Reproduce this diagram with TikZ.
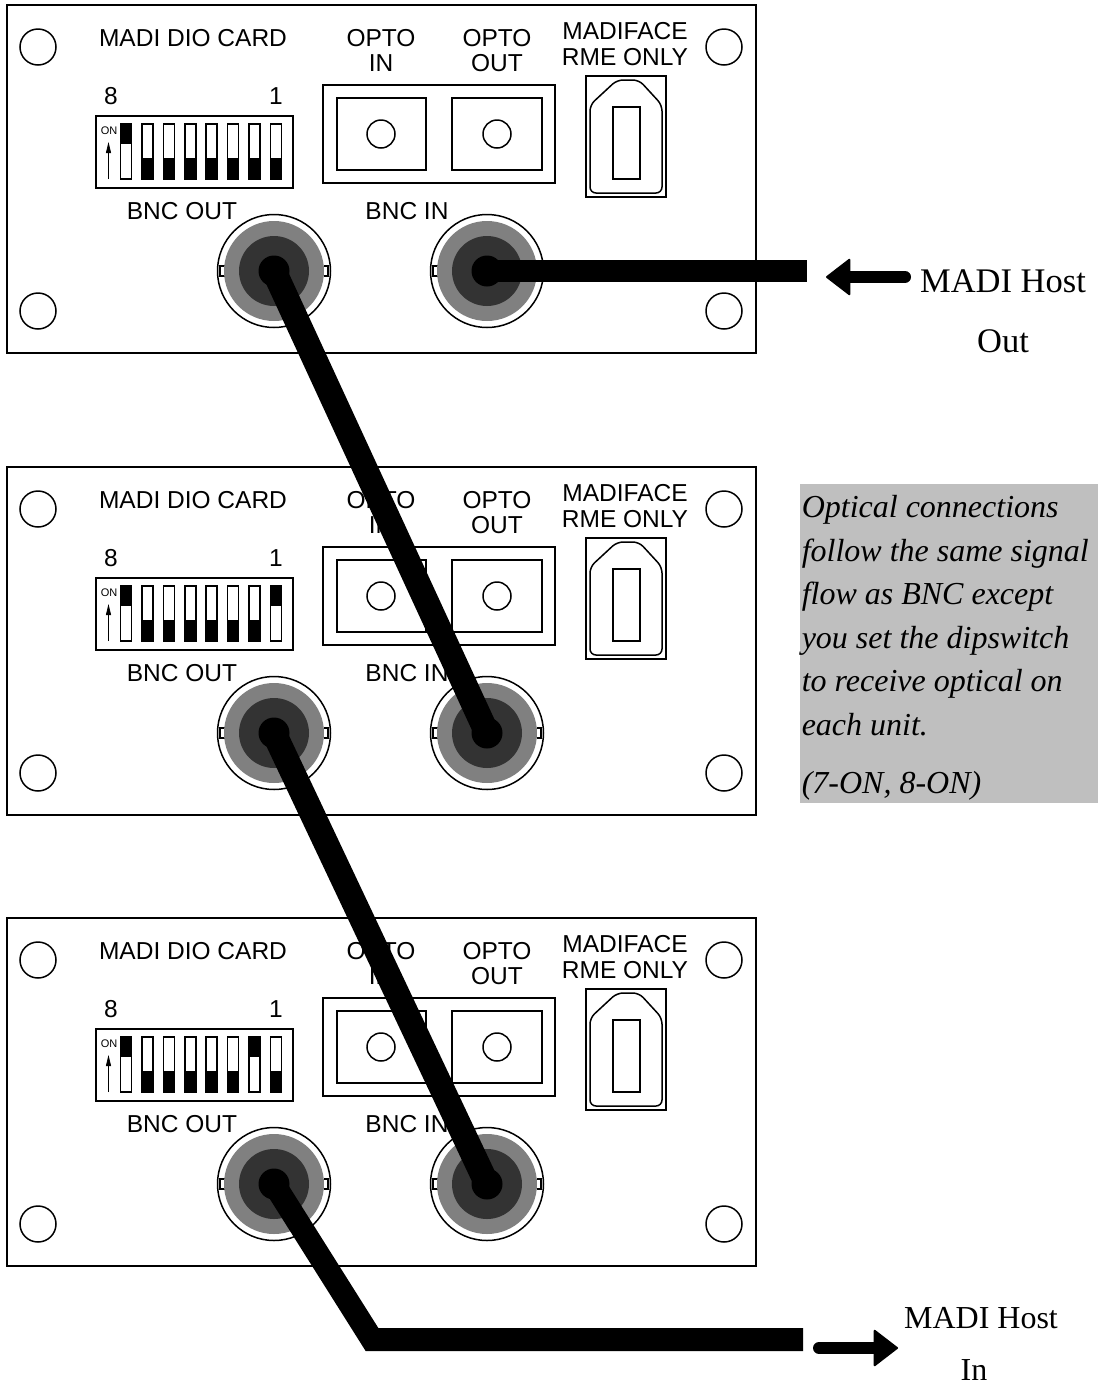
\documentclass[tikz,border=0pt]{standalone}
\usepackage{fontspec}
\setmainfont{Liberation Serif}
\setsansfont{Liberation Sans}
\usetikzlibrary{arrows.meta}

\begin{document}
\begin{tikzpicture}[x=1pt, y=-1pt, line width=1.5pt,
    cardlabel/.style={anchor=base, inner sep=0pt, font=\sffamily\fontsize{24.5}{24.5}\selectfont},
    hostlabel/.style={anchor=base, inner sep=0pt, font=\fontsize{34.5}{34.5}\selectfont},
    bncring/.style={circle, draw, fill=white, inner sep=0pt, minimum size=113pt},
    hub/.style={circle, fill=black, inner sep=0pt, minimum size=31pt},
    cable/.style={line width=25pt},
    hostarrow/.style={line width=12pt, line cap=round, -{Triangle[round, line width=2pt, length=25pt, width=38pt]}}]

    \useasboundingbox (0,0) rectangle (1103,1385);

    % three cards
    \foreach \card/\dy/\onb in {a/0/1, b/462/8, c/913/7} {
        \begin{scope}[shift={(0,\dy)}]
            \draw[line width=1.8pt] (7,5) rectangle (756,353);
            \foreach \hx/\hy in {38/47, 38/311, 724/47, 724/311}
                \draw (\hx,\hy) circle[radius=18];

            % labels
            \node[cardlabel] (title\card) at (193,46) {MADI DIO CARD};
            \node[cardlabel] (optoina\card) at (381,46) {OPTO};
            \node[cardlabel] (optoinb\card) at (381,71) {IN};
            \node[cardlabel] (optoouta\card) at (497,46) {OPTO};
            \node[cardlabel] (optooutb\card) at (497,71) {OUT};
            \node[cardlabel] (madiface\card) at (625,39) {MADIFACE};
            \node[cardlabel] (rmeonly\card) at (625,65) {RME ONLY};
            \node[cardlabel] (eight\card) at (111,104) {8};
            \node[cardlabel] (one\card) at (276,104) {1};
            \node[cardlabel] (bncoutlabel\card) at (182,219) {BNC OUT};
            \node[cardlabel] (bncinlabel\card) at (407,219) {BNC IN};

            % dipswitch
            \draw (96,116) rectangle (293,188);
            \node[inner sep=0pt, font=\sffamily\fontsize{11}{11}\selectfont] (on\card) at (109,131) {ON};
            \draw[line width=0.8pt, -{Triangle[length=11pt, width=5pt]}] (108.5,179) -- (108.5,142);
            \foreach \i in {1,...,8} {
                \pgfmathsetmacro{\swx}{126+(\i-1)*21.43}
                \draw (\swx-5.5,124) rectangle (\swx+5.5,179);
                \ifnum\i=1
                    \filldraw (\swx-5.5,124) rectangle (\swx+5.5,143);
                \else\ifnum\i=\onb
                    \filldraw (\swx-5.5,124) rectangle (\swx+5.5,143);
                \else
                    \filldraw (\swx-5.5,159) rectangle (\swx+5.5,179);
                \fi\fi
            }

            % optical ports
            \draw (323,85) rectangle (555,183);
            \draw (337,98) rectangle (426,170);
            \draw (452,98) rectangle (542,170);
            \draw (381,134) circle[radius=14];
            \draw (497,134) circle[radius=14];

            % madiface port
            \draw (586,76) rectangle (666,197);
            \draw[rounded corners=6pt] (628,80) -- (639,80) -- (662,105) -- (662,193) -- (590,193) -- (590,105) -- (617,80) -- cycle;
            \draw (613,107) rectangle (640,179);

            % bnc sockets
            \foreach \bx/\bname in {274/out, 487/in} {
                \node[bncring] (bnc\bname\card) at (\bx,271) {};
                \draw (\bx-54,266) rectangle (\bx+54,276);
                \fill[white] (\bx-49.5,262) rectangle (\bx+49.5,280);
                \fill[black!50] (\bx,271) circle[radius=50];
                \fill[black!80] (\bx,271) circle[radius=35];
                \node[hub] (hub\bname\card) at (\bx,271) {};
            }
        \end{scope}
    }

    % note
    \node[anchor=north west, fill=black!25, inner sep=0pt, minimum width=298pt, minimum height=319pt] (notebox) at (799,483) {};
    \node[anchor=north west, inner sep=0pt, align=left, font=\itshape\fontsize{32}{43.5}\selectfont] (note) at (801,495)
        {Optical connections\\follow the same signal\\flow as BNC except\\you set the dipswitch\\to receive optical on\\each unit.\\[15pt](7-ON, 8-ON)};

    % host labels
    \node[hostlabel] (hostout) at (1003,292) {MADI Host};
    \node[hostlabel] (hostoutb) at (1003,352) {Out};
    \node[hostlabel, font=\fontsize{32}{32}\selectfont] (hostin) at (981,1328) {MADI Host};
    \node[hostlabel, font=\fontsize{32}{32}\selectfont] (hostinb) at (974,1380) {In};

    % cables
    \coordinate (cableout) at (807,271);
    \coordinate (cablebend) at (372,1339.5);
    \coordinate (cablein) at (803,1339.5);
    \draw[cable, line width=22.5pt] (hubina.center) -- (cableout);
    \draw[cable] (hubouta.center) -- (hubinb.center);
    \draw[cable] (huboutb.center) -- (hubinc.center);
    \draw[cable, line width=23pt] (huboutc.center) -- (cablebend) -- (cablein);

    % arrows
    \coordinate (outtail) at (905,277);
    \coordinate (outtip) at (826,277);
    \coordinate (intail) at (819,1348);
    \coordinate (intip) at (898,1348);
    \draw[hostarrow] (outtail) -- (outtip);
    \draw[hostarrow] (intail) -- (intip);
\end{tikzpicture}
\end{document}
